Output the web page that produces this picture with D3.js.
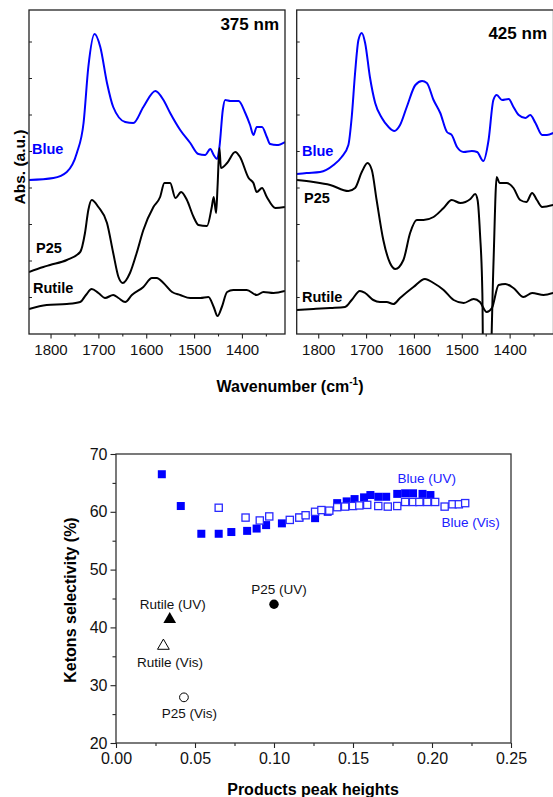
<!DOCTYPE html>
<html>
<head>
<meta charset="utf-8">
<script src="https://cdn.jsdelivr.net/npm/d3@7"></script>
<style>
  body { margin: 0; background: #fff; }
  svg { display: block; font-family: "Liberation Sans", Arial, sans-serif; }
</style>
</head>
<body>
<div id="chart"></div>
<script>
// --- spectra, [wavenumber, absorbance (a.u., offset)] ---
const blueLeft = [[1845,1.54],[1794,1.56],[1766,1.62],[1745,1.81],[1731,2.11],[1721,2.67],[1708,3.00],[1696,2.87],[1682,2.51],[1669,2.27],[1644,2.12],[1627,2.11],[1606,2.27],[1581,2.43],[1564,2.34],[1550,2.21],[1529,2.04],[1508,1.91],[1491,1.80],[1477,1.79],[1466,1.85],[1459,1.79],[1452,1.75],[1447,1.87],[1440,2.24],[1435,2.34],[1424,2.33],[1407,2.33],[1393,2.21],[1383,2.09],[1376,1.99],[1369,2.07],[1358,2.07],[1348,1.97],[1341,1.90],[1327,1.89],[1310,1.92]];
const p25Left = [[1845,0.62],[1815,0.67],[1801,0.69],[1766,0.74],[1738,0.82],[1728,1.01],[1721,1.24],[1714,1.34],[1700,1.27],[1682,1.11],[1669,0.81],[1658,0.57],[1649,0.51],[1634,0.61],[1620,0.81],[1606,1.04],[1585,1.27],[1571,1.37],[1562,1.51],[1550,1.51],[1539,1.36],[1527,1.42],[1515,1.34],[1501,1.17],[1491,1.09],[1473,1.08],[1463,1.27],[1459,1.37],[1454,1.21],[1451,1.47],[1447,1.86],[1444,1.66],[1431,1.71],[1414,1.82],[1404,1.77],[1386,1.56],[1376,1.51],[1369,1.42],[1358,1.46],[1348,1.37],[1330,1.26],[1310,1.27]];
const rutileLeft = [[1845,0.25],[1808,0.29],[1766,0.30],[1738,0.32],[1726,0.39],[1714,0.45],[1700,0.41],[1686,0.36],[1669,0.39],[1658,0.36],[1644,0.32],[1630,0.39],[1606,0.47],[1588,0.56],[1578,0.56],[1564,0.51],[1546,0.42],[1529,0.39],[1508,0.36],[1487,0.36],[1470,0.37],[1459,0.27],[1451,0.18],[1442,0.27],[1431,0.42],[1418,0.44],[1390,0.44],[1369,0.39],[1355,0.42],[1334,0.41],[1310,0.43]];

const blueRight = [[1845,1.60],[1824,1.61],[1796,1.62],[1768,1.69],[1751,1.77],[1737,1.89],[1730,2.17],[1723,2.61],[1716,2.94],[1709,3.01],[1702,2.91],[1692,2.57],[1681,2.31],[1667,2.16],[1653,2.07],[1641,2.03],[1629,2.09],[1615,2.27],[1597,2.49],[1583,2.53],[1573,2.51],[1559,2.34],[1545,2.21],[1531,2.02],[1521,1.99],[1510,1.87],[1496,1.82],[1479,1.83],[1468,1.82],[1455,1.73],[1444,1.94],[1434,2.34],[1427,2.39],[1416,2.34],[1402,2.35],[1392,2.27],[1381,2.19],[1367,2.16],[1357,2.19],[1346,2.11],[1332,1.99],[1322,1.99],[1309,2.01]];
const p25Right = [[1845,1.54],[1810,1.52],[1775,1.49],[1737,1.43],[1723,1.46],[1709,1.62],[1697,1.71],[1688,1.64],[1678,1.34],[1664,0.94],[1650,0.71],[1639,0.65],[1622,0.74],[1608,1.01],[1594,1.14],[1580,1.14],[1559,1.17],[1538,1.26],[1521,1.34],[1503,1.31],[1482,1.35],[1472,1.40],[1467,1.34],[1462,1.01],[1457,0.41],[1455,-0.4],[1441,-0.4],[1434,0.67],[1427,1.57],[1421,1.51],[1406,1.51],[1392,1.46],[1378,1.34],[1365,1.32],[1353,1.41],[1343,1.34],[1332,1.27],[1309,1.29]];
const rutileRight = [[1845,0.24],[1810,0.25],[1775,0.26],[1744,0.27],[1730,0.34],[1713,0.43],[1702,0.41],[1685,0.34],[1671,0.32],[1657,0.32],[1643,0.30],[1629,0.36],[1601,0.47],[1577,0.55],[1559,0.51],[1538,0.44],[1517,0.34],[1496,0.31],[1475,0.35],[1462,0.32],[1448,0.22],[1437,0.26],[1423,0.49],[1409,0.50],[1392,0.46],[1371,0.37],[1353,0.41],[1329,0.39],[1309,0.41]];

const wnMajor = [1800, 1700, 1600, 1500, 1400];
const wnMinor = [1750, 1650, 1550, 1450, 1350];

// --- selectivity vs. product peak heights ---
const blueUVx = [0.029,0.041,0.054,0.065,0.073,0.083,0.089,0.095,0.105,0.116,0.126,0.134,0.140,0.146,0.151,0.157,0.161,0.166,0.171,0.178,0.183,0.188,0.194,0.199];
const blueUVy = [66.5,61.0,56.2,56.2,56.5,56.7,57.1,57.7,58.0,59.0,58.9,60.0,61.5,61.8,62.2,62.5,62.9,62.6,62.6,63.1,63.2,63.2,63.1,62.9];
const blueVisx = [0.065,0.082,0.091,0.097,0.110,0.116,0.120,0.126,0.130,0.135,0.140,0.145,0.150,0.154,0.159,0.166,0.172,0.178,0.183,0.188,0.192,0.197,0.202,0.208,0.213,0.217,0.221];
const blueVisy = [60.7,59.0,58.5,59.2,58.6,59.0,59.4,60.0,60.3,60.2,60.8,60.9,61.0,61.1,61.2,61.0,60.9,61.0,61.7,61.7,61.7,61.7,61.7,60.9,61.3,61.3,61.5];
const refSamples = ["Rutile (UV)", "Rutile (Vis)", "P25 (UV)", "P25 (Vis)"];
const refX = [0.034, 0.030, 0.100, 0.043];
const refY = [41.4, 36.8, 44.0, 27.9];
const xTicks = [0, 0.05, 0.10, 0.15, 0.20, 0.25];
const yTicks = [20, 30, 40, 50, 60, 70];

const BLUE = "#0000ff";
const W = 553, H = 797;

const svg = d3.select("#chart").append("svg")
  .attr("width", W)
  .attr("height", H);

// ================= top: two spectra panels =================
const spec = { y0: 10, y1: 334 };
const yAbs = d3.scaleLinear().domain([0, 3.24]).range([spec.y1, spec.y0]);
const absTicks = d3.range(0.365, 3.2, 0.365);

const panels = [
  { x0: 29, x1: 285, title: "375 nm", tx: 279, ty: 30,
    series: [
      { data: blueLeft, color: BLUE, name: "Blue", lx: 32, ly: 154 },
      { data: p25Left, color: "#000", name: "P25", lx: 36, ly: 253 },
      { data: rutileLeft, color: "#000", name: "Rutile", lx: 33, ly: 293 }
    ] },
  { x0: 296.7, x1: 553.5, title: "425 nm", tx: 547, ty: 39,
    series: [
      { data: blueRight, color: BLUE, name: "Blue", lx: 302, ly: 156 },
      { data: p25Right, color: "#000", name: "P25", lx: 304, ly: 203 },
      { data: rutileRight, color: "#000", name: "Rutile", lx: 302, ly: 302 }
    ] }
];

panels.forEach((p, i) => {
  const x = d3.scaleLinear().domain([1845, 1310]).range([p.x0, p.x0 + 256]);
  const g = svg.append("g");

  svg.append("clipPath").attr("id", "clip" + i)
    .append("rect")
    .attr("x", p.x0).attr("y", spec.y0)
    .attr("width", p.x1 - p.x0).attr("height", spec.y1 - spec.y0);

  const line = d3.line()
    .x(d => x(d[0]))
    .y(d => yAbs(d[1]))
    .curve(d3.curveMonotoneX);

  g.append("g").attr("clip-path", `url(#clip${i})`)
    .selectAll("path")
    .data(p.series)
    .join("path")
    .attr("d", d => line(d.data))
    .attr("fill", "none")
    .attr("stroke", d => d.color)
    .attr("stroke-width", 2)
    .attr("stroke-linejoin", "round");

  // bottom axis
  const ax = g.append("g").attr("transform", `translate(0,${spec.y1})`);
  ax.call(d3.axisBottom(x).tickValues(wnMajor).tickSize(4.5).tickPadding(6).tickFormat(d3.format("d")));
  ax.append("g").call(d3.axisBottom(x).tickValues(wnMinor).tickSize(2.5).tickFormat(""));
  ax.selectAll(".domain").remove();
  ax.selectAll("line").attr("stroke", "#222").attr("stroke-width", 1.1);
  ax.selectAll("text").attr("font-size", 15).attr("fill", "#111")
    .attr("font-family", "Liberation Sans, Arial, sans-serif");

  // inner ticks on left axis
  g.append("g")
    .selectAll("line")
    .data(absTicks)
    .join("line")
    .attr("x1", p.x0).attr("x2", p.x0 + 3)
    .attr("y1", d => yAbs(d)).attr("y2", d => yAbs(d))
    .attr("stroke", "#222").attr("stroke-width", 1);

  g.append("rect")
    .attr("x", p.x0).attr("y", spec.y0)
    .attr("width", p.x1 - p.x0).attr("height", spec.y1 - spec.y0)
    .attr("fill", "none").attr("stroke", "#222").attr("stroke-width", 1.3);

  g.append("text")
    .attr("x", p.tx).attr("y", p.ty)
    .attr("text-anchor", "end")
    .attr("font-size", 17).attr("font-weight", "bold")
    .text(p.title);

  g.selectAll(".lbl")
    .data(p.series)
    .join("text")
    .attr("class", "lbl")
    .attr("x", d => d.lx).attr("y", d => d.ly)
    .attr("font-size", 14.5).attr("font-weight", "bold")
    .attr("fill", d => d.color)
    .text(d => d.name);
});

svg.append("text")
  .attr("transform", "translate(25,167) rotate(-90)")
  .attr("text-anchor", "middle")
  .attr("font-size", 15.5).attr("font-weight", "bold")
  .text("Abs. (a.u.)");

const wl = svg.append("text")
  .attr("x", 290).attr("y", 392)
  .attr("text-anchor", "middle")
  .attr("font-size", 16).attr("font-weight", "bold");
wl.append("tspan").text("Wavenumber (cm");
wl.append("tspan").attr("font-size", 10).attr("dy", -7).text("-1");
wl.append("tspan").attr("dy", 7).text(")");

// ================= bottom: scatter =================
const bx = d3.scaleLinear().domain([0, 0.25]).range([116, 511]);
const by = d3.scaleLinear().domain([20, 70]).range([743, 454]);

const xa = svg.append("g").attr("transform", "translate(0,743)");
xa.call(d3.axisBottom(bx).tickValues(xTicks).tickSize(5).tickPadding(5).tickFormat(d3.format(".2f")));
xa.append("g").call(d3.axisBottom(bx).tickValues(d3.range(0.025, 0.25, 0.05)).tickSize(3).tickFormat(""));
const ya = svg.append("g").attr("transform", "translate(116,0)");
ya.call(d3.axisLeft(by).tickValues(yTicks).tickSize(5.5).tickPadding(3).tickFormat(d3.format("d")));
ya.append("g").call(d3.axisLeft(by).tickValues(d3.range(25, 70, 10)).tickSize(3.5).tickFormat(""));
[xa, ya].forEach(a => {
  a.selectAll(".domain").remove();
  a.selectAll("line").attr("stroke", "#222").attr("stroke-width", 1.1);
  a.selectAll("text").attr("font-size", 16).attr("fill", "#111")
    .attr("font-family", "Liberation Sans, Arial, sans-serif");
});

svg.append("rect")
  .attr("x", 116).attr("y", 454)
  .attr("width", 395).attr("height", 289)
  .attr("fill", "none").attr("stroke", "#333").attr("stroke-width", 1.3);

const blueUV = blueUVx.map((v, i) => [v, blueUVy[i]]);
const blueVis = blueVisx.map((v, i) => [v, blueVisy[i]]);

svg.append("g").selectAll("rect")
  .data(blueUV)
  .join("rect")
  .attr("x", d => bx(d[0]) - 4).attr("y", d => by(d[1]) - 4)
  .attr("width", 8).attr("height", 8)
  .attr("fill", BLUE);

svg.append("g").selectAll("rect")
  .data(blueVis)
  .join("rect")
  .attr("x", d => bx(d[0]) - 3.6).attr("y", d => by(d[1]) - 3.6)
  .attr("width", 7.2).attr("height", 7.2)
  .attr("fill", "#fff").attr("stroke", "#2a2aff").attr("stroke-width", 1.3);

const sym = [d3.symbolTriangle, d3.symbolTriangle, d3.symbolCircle, d3.symbolCircle];
const filled = [true, false, true, false];
const symSize = [70, 60, 70, 60];
svg.append("g").selectAll("path")
  .data(refSamples)
  .join("path")
  .attr("transform", (d, i) => `translate(${bx(refX[i])},${by(refY[i])})`)
  .attr("d", (d, i) => d3.symbol(sym[i], symSize[i])())
  .attr("fill", (d, i) => filled[i] ? "#000" : "#fff")
  .attr("stroke", "#000")
  .attr("stroke-width", (d, i) => filled[i] ? 0 : 1);

const labelPos = [[172.7, 609], [170, 667], [279, 594], [189.3, 718]];
svg.append("g").selectAll("text")
  .data(refSamples)
  .join("text")
  .attr("x", (d, i) => labelPos[i][0]).attr("y", (d, i) => labelPos[i][1])
  .attr("text-anchor", "middle")
  .attr("font-size", 13.5).attr("fill", "#111")
  .text(d => d);

svg.append("text").attr("x", 426.7).attr("y", 483)
  .attr("text-anchor", "middle").attr("font-size", 13.5).attr("fill", "#2020ff")
  .text("Blue (UV)");
svg.append("text").attr("x", 470.7).attr("y", 526.5)
  .attr("text-anchor", "middle").attr("font-size", 13.5).attr("fill", "#2020ff")
  .text("Blue (Vis)");

svg.append("text")
  .attr("transform", "translate(76,600) rotate(-90)")
  .attr("text-anchor", "middle")
  .attr("font-size", 16).attr("font-weight", "bold")
  .text("Ketons selectivity (%)");

svg.append("text")
  .attr("x", 313).attr("y", 795)
  .attr("text-anchor", "middle")
  .attr("font-size", 16).attr("font-weight", "bold")
  .text("Products peak heights");
</script>
</body>
</html>
